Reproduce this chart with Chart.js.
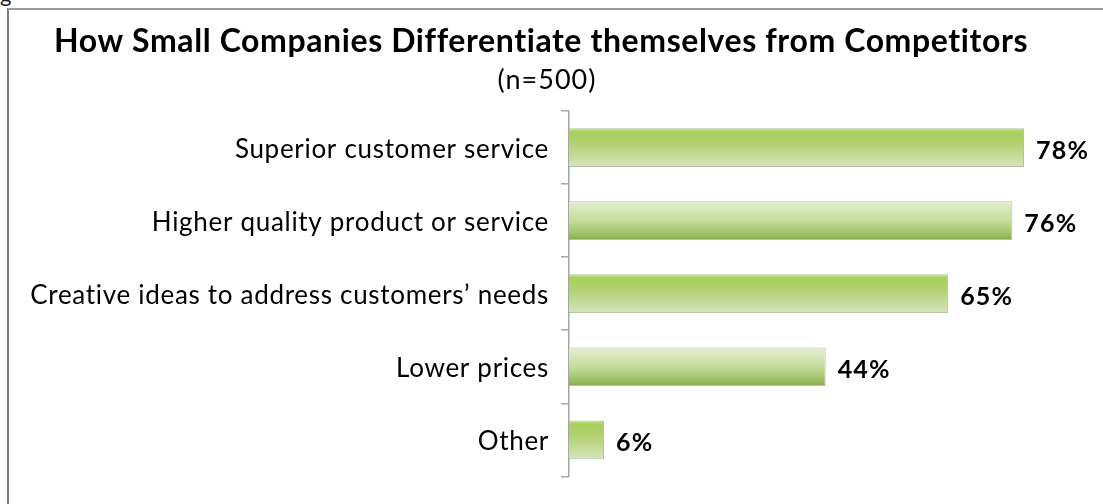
<!DOCTYPE html>
<html>
<head>
<meta charset="utf-8">
<script src="https://cdn.jsdelivr.net/npm/chart.js@4.4.1/dist/chart.umd.min.js"></script>
<style>
  html, body { margin: 0; padding: 0; background: #fff; overflow: hidden; }
  #wrap { position: relative; width: 1103px; height: 504px; }
  #frame { position: absolute; left: 7px; top: 8px; width: 1110px; height: 520px;
           border-left: 2px solid #7f7f7f; border-top: 2px solid #9a9a9a; }
  #fig { position: absolute; left: 0px; top: -20px; font: 22px Lato, sans-serif; color: #222; }
  canvas { position: absolute; left: 0; top: 0; }
</style>
</head>
<body>
<div id="wrap">
  <div id="fig">g</div>
  <div id="frame"></div>
  <canvas id="barChart" width="1103" height="504"></canvas>
</div>
<script>
var categories = ['Superior customer service', 'Higher quality product or service',
    'Creative ideas to address customers\u2019 needs', 'Lower prices', 'Other'];
var percentages = [78, 76, 65, 44, 6];
var titleText = 'How Small Companies Differentiate themselves from Competitors';
var subtitleText = '(n=500)';

var BAR_PCT = 0.53;
var FONT = 'Lato';

// glassy green fill, direction alternates from bar to bar
function barFill(c) {
    var chart = c.chart;
    if (!chart.chartArea) return '#a9cc66';
    var y = chart.scales.y;
    var band = (y.bottom - y.top) / categories.length;
    var mid = y.getPixelForValue(c.dataIndex);
    var h = band * BAR_PCT;
    var g = chart.ctx.createLinearGradient(0, mid - h / 2, 0, mid + h / 2);
    if (c.dataIndex % 2 === 0) {
        g.addColorStop(0, '#bfe07a');
        g.addColorStop(0.12, '#a7cf5c');
        g.addColorStop(0.4, '#b2d172');
        g.addColorStop(1, '#d6e4bd');
    } else {
        g.addColorStop(0, '#e4eed2');
        g.addColorStop(0.5, '#c6dc9c');
        g.addColorStop(0.88, '#99bd5e');
        g.addColorStop(1, '#86a851');
    }
    return g;
}

// a little extra tracking for the category labels
var trackingPlugin = {
    id: 'tracking',
    beforeDraw: function (chart) { chart.ctx.letterSpacing = '0.7px'; },
    afterDraw: function (chart) { chart.ctx.letterSpacing = '0px'; }
};

var headingPlugin = {
    id: 'heading',
    afterDraw: function (chart) {
        var ctx = chart.ctx;
        ctx.save();
        ctx.fillStyle = '#000';
        ctx.textAlign = 'center';
        ctx.textBaseline = 'alphabetic';
        ctx.letterSpacing = '0.6px';
        ctx.font = 'bold 32px ' + FONT;
        ctx.fillText(titleText, 541, 52);
        ctx.letterSpacing = '1px';
        ctx.font = '27px ' + FONT;
        ctx.fillText(subtitleText, 547, 89);
        ctx.restore();
    }
};

var valueLabels = {
    id: 'valueLabels',
    afterDatasetsDraw: function (chart) {
        var ctx = chart.ctx;
        var meta = chart.getDatasetMeta(0);
        ctx.save();
        ctx.fillStyle = '#000';
        ctx.letterSpacing = '1.2px';
        ctx.font = 'bold 25px ' + FONT;
        ctx.textAlign = 'left';
        ctx.textBaseline = 'alphabetic';
        meta.data.forEach(function (bar, i) {
            ctx.fillText(percentages[i] + '%', bar.x + 12, bar.y + 11);
        });
        ctx.restore();
    }
};

var ctx = document.getElementById('barChart').getContext('2d');
var myChart = new Chart(ctx, {
    type: 'bar',
    data: {
        labels: categories,
        datasets: [{
            data: percentages,
            backgroundColor: barFill,
            borderColor: 'rgba(120,150,80,0.55)',
            borderWidth: 1,
            borderSkipped: 'start',
            barPercentage: BAR_PCT,
            categoryPercentage: 1
        }]
    },
    options: {
        indexAxis: 'y',
        responsive: false,
        animation: false,
        layout: { padding: { top: 111, bottom: 21, right: 9, left: 0 } },
        plugins: {
            legend: { display: false },
            tooltip: { enabled: false }
        },
        scales: {
            x: { display: false, min: 0, max: 90 },
            y: {
                afterFit: function (scale) { scale.width = 569; },
                border: { display: true, color: '#a6a6a6', width: 1.5 },
                grid: { drawOnChartArea: false, drawTicks: true, tickLength: 8, color: '#a6a6a6', lineWidth: 1.5 },
                ticks: { color: '#000', padding: 12, labelOffset: 2, font: { family: FONT, size: 26 } }
            }
        }
    },
    plugins: [trackingPlugin, headingPlugin, valueLabels]
});
</script>
</body>
</html>
